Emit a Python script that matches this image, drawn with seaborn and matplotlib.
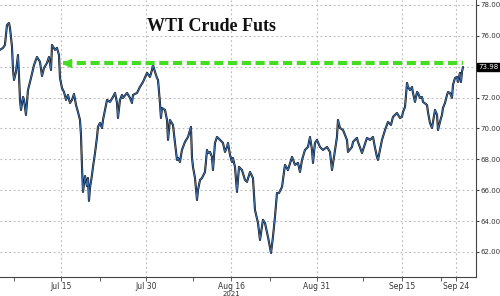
import matplotlib
matplotlib.use("Agg")
import matplotlib.pyplot as plt
import matplotlib.transforms as mtransforms
import seaborn as sns
import pandas as pd

# trading-day index (Jul 15, 2021 = 0) and WTI price
t = [-7.87, -7.48, -7.23, -6.97, -6.71, -6.58, -6.32, -6.19, -6.06, -5.81, -5.55, -5.42, -5.29, -5.16,
     -4.90, -4.77, -4.52, -4.26, -3.87, -3.48, -3.10, -2.71, -2.45, -2.19, -1.81, -1.55, -1.29, -1.16,
     -0.77, -0.52, -0.26, -0.13, 0.13, 0.39, 0.65, 0.90, 1.16, 1.42, 1.68, 1.94, 2.19, 2.45, 2.58, 2.71,
     2.84, 3.10, 3.35, 3.48, 3.61, 3.74, 4.00, 4.13, 4.39, 4.65, 4.77, 5.03, 5.29, 5.42, 5.68, 5.94,
     6.32, 6.71, 6.97, 7.23, 7.35, 7.61, 7.87, 8.00, 8.52, 8.90, 9.16, 9.29, 9.81, 10.19, 10.58, 11.10,
     11.48, 11.74, 11.87, 12.13, 12.39, 12.52, 12.77, 12.90, 13.03, 13.42, 13.68, 13.81, 14.06, 14.45,
     14.71, 14.97, 15.10, 15.35, 15.61, 16.00, 16.39, 16.77, 16.90, 17.03, 17.29, 17.55, 17.68, 17.94,
     18.19, 18.58, 18.84, 18.97, 19.23, 19.48, 19.61, 19.87, 20.13, 20.52, 20.90, 21.16, 21.42, 21.55,
     21.81, 22.06, 22.19, 22.45, 22.71, 22.97, 23.35, 23.74, 24.00, 24.39, 24.77, 25.03, 25.42, 25.68,
     26.06, 26.32, 26.71, 27.10, 27.35, 27.61, 27.87, 28.13, 28.52, 28.90, 29.29, 29.81, 30.19, 30.58,
     30.84, 31.10, 31.48, 31.87, 32.13, 32.39, 32.52, 32.77, 33.03, 33.42, 33.81, 34.32, 34.71, 34.97,
     35.23, 35.61, 35.74, 36.00, 36.39, 36.90, 37.03, 37.55, 37.68, 38.19, 38.32, 38.84, 38.97, 39.48,
     39.87, 40.26, 40.52, 40.77, 40.90, 41.16, 41.42, 41.81, 42.19, 42.58, 42.84, 43.35, 43.74, 44.00,
     44.13, 44.39, 44.65, 44.77, 45.03, 45.29, 45.42, 45.68, 45.94, 46.06, 46.32, 46.58, 46.71, 47.23,
     47.35, 47.61, 47.87, 48.00, 48.26, 48.52, 48.65, 48.90, 49.16, 49.29, 49.55, 49.81, 49.94, 50.19,
     50.45, 50.58, 50.84, 51.10, 51.23, 51.48, 51.61, 51.74, 51.87]
price = [75.09, 75.22, 75.41, 76.70, 76.83, 76.51, 75.28, 73.79, 73.14, 73.66, 74.76, 73.47, 71.85, 71.20,
         72.04, 71.85, 70.88, 72.49, 73.27, 74.11, 74.63, 74.31, 73.40, 73.92, 74.24, 74.63, 73.79, 75.41,
         75.09, 75.22, 74.76, 73.27, 72.62, 72.36, 71.85, 72.17, 71.65, 71.85, 72.24, 71.52, 71.07, 70.55,
         69.58, 67.51,
         65.89, 66.92, 66.28, 66.79, 65.31, 66.15, 66.99, 67.51, 68.41, 69.45, 70.10, 70.36, 70.03, 70.55,
         71.20, 71.85,
         71.72, 72.04, 72.30, 71.65, 70.68, 71.85, 72.17, 71.98, 72.30, 71.98, 71.65, 72.17, 72.30, 72.69,
         73.01, 73.60,
         73.34, 73.79, 74.11, 73.66, 73.27, 73.14, 71.65, 70.68, 71.33, 71.20, 70.55, 69.26, 70.55, 70.23,
         69.06, 67.96, 68.09, 67.83, 68.61, 69.13, 69.45, 70.10, 68.16, 67.51, 66.79, 65.37, 66.02, 66.67,
         66.79, 67.18, 68.61, 68.41, 68.48, 68.16, 67.31, 69.06, 69.45, 69.26, 69.06, 68.48, 68.80, 69.06,
         68.28, 67.83, 68.09, 67.51, 65.89, 67.51, 67.31, 66.67, 66.54, 67.18, 66.79, 64.72, 63.88, 62.78,
         64.08, 63.88, 62.97, 61.94, 62.97, 64.27, 65.82, 65.82, 66.21, 67.64, 67.31, 68.16, 67.64, 67.77,
         67.18, 67.96, 68.61, 68.80, 69.45, 68.61, 67.77, 69.06, 69.26, 68.80, 68.61, 68.80, 68.48, 67.31,
         68.16, 69.45, 70.55, 70.03, 69.90, 69.26, 68.48, 68.80, 69.13, 69.39, 69.13, 68.41, 68.61, 69.39,
         69.26, 69.45, 68.74, 68.16, 67.96, 68.61, 69.26, 69.90, 70.42, 70.23, 70.75, 71.00, 70.68, 70.75,
         71.07, 71.39, 72.95, 72.69, 72.49, 72.69, 72.30, 71.72, 72.36, 72.30, 71.98, 72.04, 71.72, 71.52,
         71.07, 70.36, 70.03, 70.42, 71.20, 70.88, 69.90, 70.42, 70.88, 71.33, 71.65, 72.17, 72.36, 72.30,
         71.98, 72.82, 73.27, 73.34, 73.01, 73.60, 73.01, 73.66, 73.98]

tick_pos = [0, 11, 22, 33, 44, 51]
tick_labels = ["Jul 15", "Jul 30", "Aug 16", "Aug 31", "Sep 15", "Sep 24"]
minor_pos = [-6, 5, 17, 27, 39, 49]
y_ticks = [62, 64, 66, 68, 70, 72, 74, 76, 78]
y_hidden = [74]  # covered by the last-price tag
last_price = 73.98
resistance = 74.25
resistance_start = 0.26
title = "WTI Crude Futs"
year_label = "2021"

df = pd.DataFrame({"t": t, "price": price})

sns.set_style("white")
fig = plt.figure(figsize=(5.0, 2.96), dpi=100)
ax = fig.add_axes([0.0, 19 / 296, 476 / 500, 1 - 19 / 296])

sns.lineplot(data=df, x="t", y="price", ax=ax, estimator=None, sort=False,
             color="#111111", linewidth=1.5)
sns.lineplot(data=df, x="t", y="price", ax=ax, estimator=None, sort=False,
             color="#3d74b8", linewidth=0.7)

ax.set_xlim(-7.87, 53.55)
ax.set_ylim(60.38, 78.32)

ax.set_xticks(tick_pos)
ax.set_xticklabels(tick_labels)
ax.set_xticks(minor_pos, minor=True)
ax.set_yticks(y_ticks)
ax.set_yticklabels(["" if v in y_hidden else f"{v:.2f}" for v in y_ticks])
ax.yaxis.tick_right()

ax.grid(True, which="major", color="#b8b8b8", linestyle=(0, (1.5, 2.5)), linewidth=0.8)
ax.set_xlabel("")
ax.set_ylabel("")

for s in ["top", "left"]:
    ax.spines[s].set_visible(False)
for s in ["bottom", "right"]:
    ax.spines[s].set_color("#444444")
    ax.spines[s].set_linewidth(0.8)

ax.tick_params(axis="y", which="major", right=True, left=False, length=2.5, width=0.8,
               color="#444444", labelsize=5, labelcolor="#333333", pad=0.8)
ax.tick_params(axis="x", which="major", bottom=True, length=3, width=0.6, color="#444444",
               labelsize=5.5, labelcolor="#333333", pad=0.5)
ax.tick_params(axis="x", which="minor", bottom=True, length=3, width=0.6, color="#444444")

# resistance line with arrow head
ax.plot([resistance_start, t[-1]], [resistance, resistance], color="#44dd22",
        linewidth=3, linestyle=(0, (2.2, 1.1)), solid_capstyle="butt", zorder=5)
ax.plot([resistance_start + 0.5], [resistance], marker="<", color="#44dd22",
        markersize=6, zorder=6)

# last price label
trans = mtransforms.blended_transform_factory(ax.transAxes, ax.transData)
ax.text(1.006, last_price, f"{last_price:.2f}", transform=trans, color="white",
        fontsize=5, va="center", ha="left",
        bbox=dict(boxstyle="square,pad=0.2", facecolor="black", edgecolor="black"),
        zorder=10, clip_on=False)

# title
ax.text(0.445, 0.905, title, transform=ax.transAxes, fontsize=13, fontweight="bold",
        family="Liberation Serif", color="#111111", ha="center", va="center")

# year label
ax.text(22, -0.052, year_label,
        transform=mtransforms.blended_transform_factory(ax.transData, ax.transAxes),
        fontsize=5, color="#333333", ha="center", va="top", clip_on=False)

fig.savefig("out.png", dpi=100)
